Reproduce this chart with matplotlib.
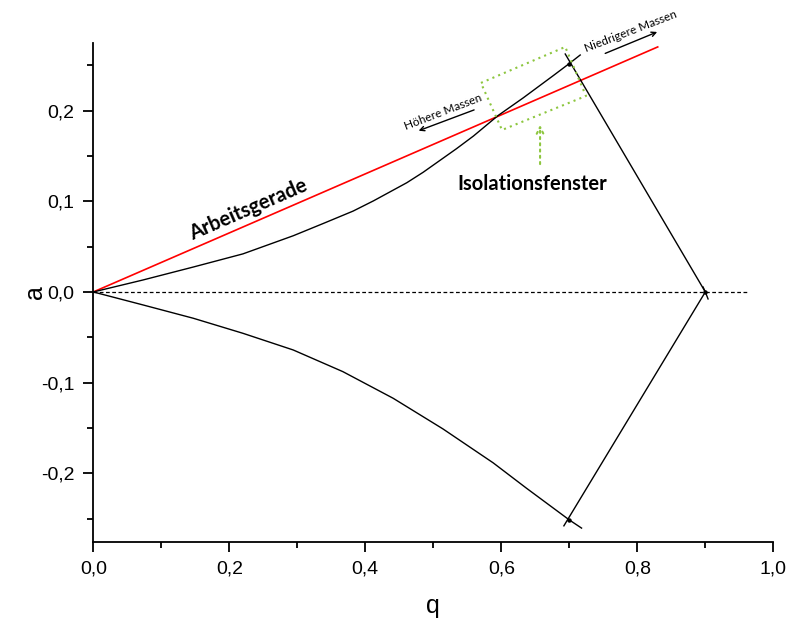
import matplotlib
matplotlib.use("Agg")
import matplotlib.pyplot as plt
from matplotlib.ticker import MultipleLocator, FuncFormatter

# upper and lower stability boundaries
q_upper = [0.0, 0.073, 0.147, 0.220, 0.294, 0.338, 0.382, 0.412, 0.461, 0.485, 0.534,
           0.559, 0.595, 0.632, 0.677, 0.700, 0.716]
a_upper = [0.0, 0.0132, 0.0275, 0.042, 0.062, 0.0755, 0.0892, 0.1005, 0.1205, 0.132, 0.158,
           0.172, 0.1945, 0.214, 0.239, 0.252, 0.2614]
q_lower = [0.0, 0.073, 0.147, 0.220, 0.294, 0.367, 0.441, 0.514, 0.588, 0.637,
           0.700, 0.718]
a_lower = [0.0, -0.0143, -0.029, -0.0456, -0.064, -0.0879, -0.1173, -0.151, -0.1885, -0.2165,
           -0.2515, -0.2605]

# right hand boundaries
q_right_up = [0.694, 0.900, 0.904]
a_right_up = [0.2625, 0.0, -0.0077]
q_right_lo = [0.692, 0.900, 0.8966]
a_right_lo = [-0.258, 0.0, 0.0055]

# corner points of the diagram
q_corner = [0.700, 0.900, 0.700]
a_corner = [0.252, 0.0, -0.2515]

# working line (Arbeitsgerade)
q_work = [0.0, 0.830]
a_work = [0.0, 0.2703]

# isolation window (rotated box)
q_box = [0.570, 0.694, 0.7245, 0.601, 0.570]
a_box = [0.2306, 0.2703, 0.2162, 0.1787, 0.2306]

green = "#8dc63f"
tick_font = "Liberation Sans"
note_font = "Lato"

fig = plt.figure(figsize=(7.9, 6.23), dpi=100)
ax = fig.add_axes([0.1181, 0.1305, 0.8608, 0.801])

ax.plot([0.0, 0.964], [0.0, 0.0], color="black", lw=0.9, ls=(0, (3, 2)))
ax.plot(q_work, a_work, color="#ff0000", lw=1.2)
ax.plot(q_upper, a_upper, color="black", lw=1.0)
ax.plot(q_lower, a_lower, color="black", lw=1.0)
ax.plot(q_right_up, a_right_up, color="black", lw=1.0)
ax.plot(q_right_lo, a_right_lo, color="black", lw=1.0)
ax.plot(q_corner, a_corner, "o", color="black", ms=2.2, ls="none")

ax.plot(q_box, a_box, color=green, lw=1.5, ls=(0, (1, 2)), clip_on=False)
ax.annotate("", xy=(0.657, 0.1875), xytext=(0.657, 0.138),
            arrowprops=dict(arrowstyle="->", color=green, lw=1.5, ls=(0, (1, 2)),
                            mutation_scale=12))

# text notes
ax.text(0.228, 0.0905, "Arbeitsgerade", fontfamily=note_font, fontweight="bold",
        fontsize=14.5, rotation=23.4, ha="center", va="center", rotation_mode="anchor")
ax.text(0.6456, 0.119, "Isolationsfenster", fontfamily=note_font, fontweight="bold",
        fontsize=14.5, ha="center", va="center")
ax.text(0.515, 0.198, "Höhere Massen", fontfamily=note_font, fontsize=8.5,
        rotation=21, ha="center", va="center", rotation_mode="anchor")
ax.text(0.790, 0.287, "Niedrigere Massen", fontfamily=note_font, fontsize=8.5,
        rotation=21, ha="center", va="center", rotation_mode="anchor", clip_on=False)
ax.annotate("", xy=(0.4746, 0.1768), xytext=(0.5638, 0.2019),
            arrowprops=dict(arrowstyle="->", color="black", lw=1.0, mutation_scale=8))
ax.annotate("", xy=(0.833, 0.288), xytext=(0.749, 0.262), annotation_clip=False,
            arrowprops=dict(arrowstyle="->", color="black", lw=1.0, mutation_scale=8))

ax.set_xlim(0, 1.0)
ax.set_ylim(-0.2755, 0.275)
ax.spines["top"].set_visible(False)
ax.spines["right"].set_visible(False)
ax.spines["left"].set_linewidth(1.3)
ax.spines["bottom"].set_linewidth(1.3)

ax.xaxis.set_major_locator(MultipleLocator(0.2))
ax.xaxis.set_minor_locator(MultipleLocator(0.1))
ax.yaxis.set_major_locator(MultipleLocator(0.1))
ax.yaxis.set_minor_locator(MultipleLocator(0.05))

def comma(v, pos):
    s = f"{v:.1f}"
    if s == "-0.0":
        s = "0.0"
    return s.replace(".", ",")

ax.xaxis.set_major_formatter(FuncFormatter(comma))
ax.yaxis.set_major_formatter(FuncFormatter(comma))
ax.tick_params(which="major", length=7.5, width=1.3, pad=6, labelsize=14)
ax.tick_params(which="minor", length=4, width=1.3)
for lab in ax.get_xticklabels() + ax.get_yticklabels():
    lab.set_fontfamily(tick_font)

ax.set_xlabel("q", fontfamily=tick_font, fontsize=18, labelpad=12)
ax.set_ylabel("a", fontfamily=tick_font, fontsize=18, labelpad=-4)

fig.savefig("out.png", dpi=100)
